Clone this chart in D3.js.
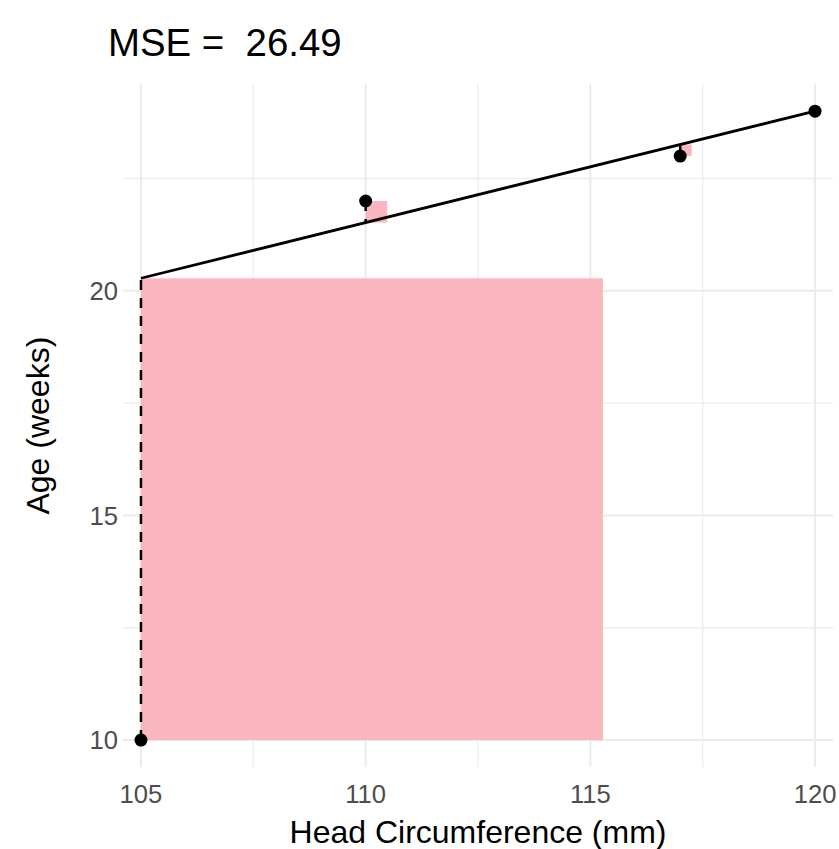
<!DOCTYPE html>
<html>
<head>
<meta charset="utf-8">
<script src="https://cdn.jsdelivr.net/npm/d3@7/dist/d3.min.js"></script>
<style>
  html, body { margin: 0; padding: 0; background: #ffffff; }
  svg { display: block; font-family: "Liberation Sans", Arial, Helvetica, sans-serif; }
</style>
</head>
<body>
<div id="chart"></div>
<script>
// Observations: head circumference (mm) and age (weeks)
const headCircumference = [105, 110, 117, 120];
const ageWeeks = [10, 22, 23, 24];

// Candidate line: age at 105 mm and slope (weeks per mm)
const lineStartX = 105;
const lineStartY = 20.28;
const lineSlope = 0.248;

// Axis ticks
const xTicks = [105, 110, 115, 120];
const xMinorTicks = [107.5, 112.5, 117.5];
const yTicks = [10, 15, 20];
const yMinorTicks = [12.5, 17.5, 22.5];

const width = 839, height = 849;

const x = d3.scaleLinear().domain([104.6, 120.4]).range([123, 833]);
const y = d3.scaleLinear().domain([9.4, 24.6]).range([767, 84.2]);

const fit = v => lineStartY + lineSlope * (v - lineStartX);

const points = headCircumference.map((hc, i) => {
  const f = fit(hc);
  return { hc, age: ageWeeks[i], fitted: f, resid: ageWeeks[i] - f };
});
const mse = d3.mean(points, d => d.resid * d.resid);

const svg = d3.select("#chart").append("svg")
  .attr("width", width).attr("height", height);

// Grid
const grid = svg.append("g");
grid.selectAll(".xminor").data(xMinorTicks).join("line")
  .attr("x1", d => x(d)).attr("x2", d => x(d))
  .attr("y1", y.range()[1]).attr("y2", y.range()[0])
  .attr("stroke", "#eeeeee").attr("stroke-width", 1.4);
grid.selectAll(".yminor").data(yMinorTicks).join("line")
  .attr("y1", d => y(d)).attr("y2", d => y(d))
  .attr("x1", x.range()[0]).attr("x2", x.range()[1])
  .attr("stroke", "#eeeeee").attr("stroke-width", 1.4);
grid.selectAll(".xmajor").data(xTicks).join("line")
  .attr("x1", d => x(d)).attr("x2", d => x(d))
  .attr("y1", y.range()[1]).attr("y2", y.range()[0])
  .attr("stroke", "#ebebeb").attr("stroke-width", 2);
grid.selectAll(".ymajor").data(yTicks).join("line")
  .attr("y1", d => y(d)).attr("y2", d => y(d))
  .attr("x1", x.range()[0]).attr("x2", x.range()[1])
  .attr("stroke", "#ebebeb").attr("stroke-width", 2);

// Squared residuals
svg.append("g").selectAll("rect").data(points).join("rect")
  .attr("x", d => x(d.hc))
  .attr("width", d => x(d.hc + Math.abs(d.resid)) - x(d.hc))
  .attr("y", d => y(Math.max(d.age, d.fitted)))
  .attr("height", d => y(Math.min(d.age, d.fitted)) - y(Math.max(d.age, d.fitted)))
  .attr("fill", "#fab2ba").attr("fill-opacity", 0.93);

// Residual segments
svg.append("g").selectAll("line").data(points).join("line")
  .attr("x1", d => x(d.hc)).attr("x2", d => x(d.hc))
  .attr("y1", d => y(d.age)).attr("y2", d => y(d.fitted))
  .attr("stroke", "#000").attr("stroke-width", 2.5)
  .attr("stroke-dasharray", "10,8");

// Line
const xExt = d3.extent(headCircumference);
svg.append("line")
  .attr("x1", x(xExt[0])).attr("y1", y(fit(xExt[0])))
  .attr("x2", x(xExt[1])).attr("y2", y(fit(xExt[1])))
  .attr("stroke", "#000").attr("stroke-width", 2.8);

// Points
svg.append("g").selectAll("circle").data(points).join("circle")
  .attr("cx", d => x(d.hc)).attr("cy", d => y(d.age)).attr("r", 6.5)
  .attr("fill", "#000");

// Tick labels
svg.append("g").selectAll("text").data(xTicks).join("text")
  .attr("x", d => x(d)).attr("y", 803)
  .attr("text-anchor", "middle")
  .attr("font-size", 25.6).attr("fill", "#4d4d4d")
  .text(d => d);
svg.append("g").selectAll("text").data(yTicks).join("text")
  .attr("x", 118).attr("y", d => y(d))
  .attr("dy", "0.36em")
  .attr("text-anchor", "end")
  .attr("font-size", 25.6).attr("fill", "#4d4d4d")
  .text(d => d);

// Axis titles
svg.append("text")
  .attr("x", (x.range()[0] + x.range()[1]) / 2).attr("y", 843)
  .attr("text-anchor", "middle").attr("font-size", 32).attr("fill", "#000")
  .text("Head Circumference (mm)");
svg.append("text")
  .attr("transform", `translate(49,${(y.range()[0] + y.range()[1]) / 2}) rotate(-90)`)
  .attr("text-anchor", "middle").attr("font-size", 32).attr("fill", "#000")
  .text("Age (weeks)");

// Title
svg.append("text")
  .attr("x", 108).attr("y", 56)
  .attr("font-size", 38.4).attr("fill", "#000")
  .style("white-space", "pre")
  .attr("xml:space", "preserve")
  .text("MSE =  " + mse.toFixed(2));
</script>
</body>
</html>
